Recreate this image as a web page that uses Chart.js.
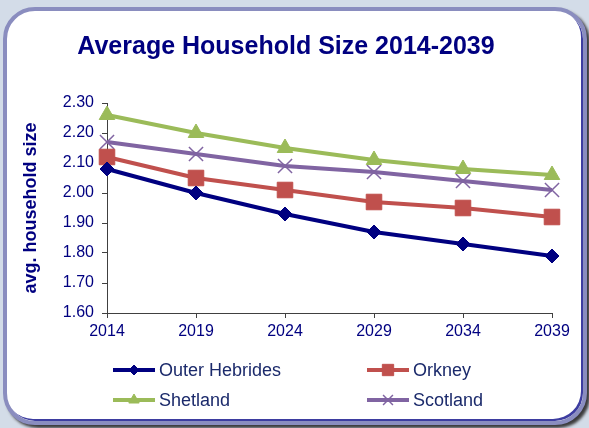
<!DOCTYPE html>
<html>
<head>
    <title>Average Household Size 2014-2039</title>
    <style>
        body {
            margin: 0;
            width: 589px;
            height: 428px;
            overflow: hidden;
            background-color: #d3dce8;
            position: relative;
        }
        .frame {
            position: absolute;
            left: 3px;
            top: 7px;
            width: 584px;
            height: 418px;
            box-sizing: border-box;
            border: 4px solid #8a8dbf;
            border-radius: 32px;
            background-color: #fff;
            box-shadow: inset -2px -2px 0 #3d3da0, 3px 3px 3px #3a3a3a;
        }
        canvas {
            position: absolute;
            left: 0;
            top: 0;
        }
    </style>
</head>
<body>
    <div class="frame"></div>
    <canvas id="household-chart" width="589" height="428"></canvas>

    <script src="https://cdn.jsdelivr.net/npm/chart.js"></script>
    <script>
        // Projected average household size
        const years = ["2014", "2019", "2024", "2029", "2034", "2039"];
        const outerHebrides = [2.08, 2.00, 1.93, 1.87, 1.83, 1.79];
        const orkney = [2.12, 2.05, 2.01, 1.97, 1.95, 1.92];
        const shetland = [2.26, 2.20, 2.15, 2.11, 2.08, 2.06];
        const scotland = [2.17, 2.13, 2.09, 2.07, 2.04, 2.01];
        const yMin = 1.6;
        const yMax = 2.3;
        const yStep = 0.1;

        const fontFamily = "Arial, 'Liberation Sans', sans-serif";
        const navy = "#000080";
        const axisColor = "#404040";

        // Excel-style legend: two columns, line with marker in the middle
        const legendSpots = [[113, 370], [367, 370], [113, 400], [367, 400]];
        const legendRadius = [5, 8, 6, 7];
        const twoColumnLegend = {
            id: "twoColumnLegend",
            afterDraw(chart) {
                const ctx = chart.ctx;
                chart.data.datasets.forEach((ds, i) => {
                    const [x, y] = legendSpots[i];
                    ctx.save();
                    ctx.strokeStyle = ds.borderColor;
                    ctx.lineWidth = 4;
                    ctx.beginPath();
                    ctx.moveTo(x, y);
                    ctx.lineTo(x + 42, y);
                    ctx.stroke();
                    ctx.fillStyle = ds.pointBackgroundColor;
                    ctx.strokeStyle = ds.pointBorderColor;
                    ctx.lineWidth = ds.pointBorderWidth;
                    Chart.helpers.drawPoint(ctx, {
                        pointStyle: ds.pointStyle,
                        radius: legendRadius[i],
                        rotation: 0,
                        borderWidth: ds.pointBorderWidth,
                    }, x + 21, y);
                    ctx.fillStyle = "#1b2a6b";
                    ctx.font = "18px " + fontFamily;
                    ctx.textBaseline = "middle";
                    ctx.textAlign = "left";
                    ctx.fillText(ds.label, x + 46, y + 1);
                    ctx.restore();
                });
            },
        };

        function series(label, data, color, style, radius, borderWidth) {
            return {
                label: label,
                data: data,
                borderColor: color,
                backgroundColor: color,
                borderWidth: 4,
                tension: 0,
                pointStyle: style,
                pointRadius: radius,
                pointHoverRadius: radius,
                pointBackgroundColor: color,
                pointBorderColor: color,
                pointBorderWidth: borderWidth,
            };
        }

        const ctx = document.getElementById("household-chart").getContext("2d");
        new Chart(ctx, {
            type: "line",
            data: {
                labels: years,
                datasets: [
                    series("Outer Hebrides", outerHebrides, "#000080", "rectRot", 7, 1),
                    series("Orkney", orkney, "#c0504d", "rect", 11, 1),
                    series("Shetland", shetland, "#9bbb59", "triangle", 9, 1),
                    series("Scotland", scotland, "#8064a2", "crossRot", 10, 1.5),
                ],
            },
            options: {
                responsive: false,
                animation: false,
                layout: {
                    padding: { left: 20, right: 37, top: 0, bottom: 85 },
                },
                plugins: {
                    legend: { display: false },
                    tooltip: { enabled: false },
                    title: {
                        display: true,
                        text: "Average Household Size 2014-2039",
                        color: navy,
                        font: { family: fontFamily, size: 25, weight: "bold" },
                        padding: { top: 32, bottom: 41 },
                    },
                },
                scales: {
                    x: {
                        offset: false,
                        grid: { drawOnChartArea: false, tickLength: 5, color: axisColor },
                        border: { color: axisColor },
                        ticks: {
                            color: navy,
                            font: { family: fontFamily, size: 16 },
                            padding: 4,
                            maxRotation: 0,
                        },
                        afterFit: (scale) => {
                            scale.paddingRight = 6;
                            scale.height = 30;
                        },
                    },
                    y: {
                        min: yMin,
                        max: yMax,
                        grid: { drawOnChartArea: false, tickLength: 5, color: axisColor },
                        border: { color: axisColor },
                        ticks: {
                            stepSize: yStep,
                            color: navy,
                            font: { family: fontFamily, size: 16 },
                            padding: 8,
                            callback: (v) => Number(v).toFixed(2),
                        },
                        title: {
                            display: true,
                            text: "avg. household size",
                            color: navy,
                            font: { family: fontFamily, size: 18, weight: "bold" },
                            padding: 0,
                        },
                        afterFit: (scale) => {
                            scale.width = 87;
                        },
                    },
                },
            },
            plugins: [twoColumnLegend],
        });
    </script>
</body>
</html>
